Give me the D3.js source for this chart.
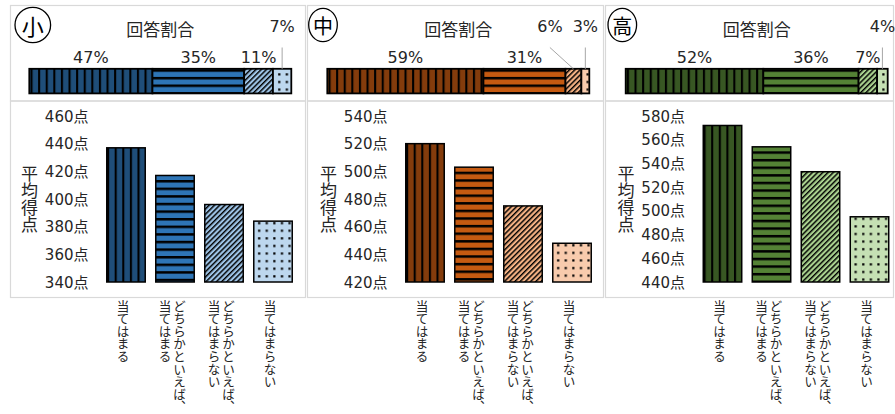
<!DOCTYPE html>
<html lang="ja">
<head>
<meta charset="utf-8">
<script src="https://cdn.jsdelivr.net/npm/d3@7"></script>
<style>
  html, body { margin: 0; padding: 0; background: #ffffff; }
  svg { display: block; font-family: "Noto Sans CJK JP", "Noto Sans", sans-serif; }
  .vt { writing-mode: vertical-rl; text-orientation: mixed; }
</style>
</head>
<body>
<svg id="chart" width="895" height="414"></svg>
<script>
// ---------- data ----------
const panelNames = ["小", "中", "高"];
const categories = ["当てはまる", "どちらかといえば、当てはまる", "どちらかといえば、当てはまらない", "当てはまらない"];
const shareSho = [47, 35, 11, 7];
const shareChu = [59, 31, 6, 3];
const shareKo  = [52, 36, 7, 4];
const scoreSho = [437, 417, 396, 384];
const scoreChu = [520, 503, 475, 448];
const scoreKo  = [572, 554, 533, 495];
const ticksSho = [340, 360, 380, 400, 420, 440, 460];
const ticksChu = [420, 440, 460, 480, 500, 520, 540];
const ticksKo  = [440, 460, 480, 500, 520, 540, 560, 580];
const shareTitle = "回答割合";
const yTitle = "平均得点";
const colorsSho = ["#1f4e79", "#2e75b6", "#9dc3e6", "#bdd7ee"];
const colorsChu = ["#843c0c", "#c55a11", "#f4b183", "#f8cbad"];
const colorsKo  = ["#385723", "#548235", "#a9d18e", "#c5e0b4"];
// which share labels sit above the bar with a leader line
const outsideSho = [false, false, false, true];
const outsideChu = [false, false, true, true];
const outsideKo  = [false, false, false, true];

const panels = [
  { name: panelNames[0], share: shareSho, score: scoreSho, ticks: ticksSho, colors: colorsSho, outside: outsideSho,
    box: [10.5, 305.5], stackX: 29.3, plotX: 101.5, circle: [32.8, 25, 17.8, 17.7], outDx: [0, 0, 0, 0] },
  { name: panelNames[1], share: shareChu, score: scoreChu, ticks: ticksChu, colors: colorsChu, outside: outsideChu,
    box: [307.5, 603.5], stackX: 327.3, plotX: 400.5, circle: [323, 25, 14.3, 16.7], outDx: [0, 0, -23.5, 0] },
  { name: panelNames[2], share: shareKo, score: scoreKo, ticks: ticksKo, colors: colorsKo, outside: outsideKo,
    box: [605.5, 893.5], stackX: 625.7, plotX: 698, circle: [622.3, 25, 14.3, 16.7], outDx: [0, 0, 0, 0] }
];

const svg = d3.select("#chart");
const defs = svg.append("defs");
const textColor = "#262626";
const border = "#d9d9d9";
const numFont = '"DejaVu Sans", "Noto Sans CJK JP", sans-serif';

// ---------- patterns (one per element so the stripes line up with its edges) ----------
let patCount = 0;
function pattern(kind, color, ox, oy) {
  const id = "pat" + (patCount++);
  let p;
  if (kind === 0) { // vertical stripes
    p = defs.append("pattern").attr("id", id).attr("patternUnits", "userSpaceOnUse")
      .attr("x", ox).attr("y", 0).attr("width", 7.6).attr("height", 10);
    p.append("rect").attr("width", 7.6).attr("height", 10).attr("fill", color);
    p.append("rect").attr("x", 0).attr("width", 2.1).attr("height", 10).attr("fill", "#000");
  } else if (kind === 1) { // horizontal stripes
    p = defs.append("pattern").attr("id", id).attr("patternUnits", "userSpaceOnUse")
      .attr("x", 0).attr("y", oy).attr("width", 10).attr("height", 7.6);
    p.append("rect").attr("width", 10).attr("height", 7.6).attr("fill", color);
    p.append("rect").attr("y", 0).attr("width", 10).attr("height", 2.5).attr("fill", "#000");
  } else if (kind === 2) { // upward diagonal
    p = defs.append("pattern").attr("id", id).attr("patternUnits", "userSpaceOnUse")
      .attr("width", 3.7).attr("height", 3.7).attr("patternTransform", "rotate(45)");
    p.append("rect").attr("width", 3.7).attr("height", 3.7).attr("fill", color);
    p.append("rect").attr("x", 0).attr("width", 1.45).attr("height", 3.7).attr("fill", "#000");
  } else { // dots
    p = defs.append("pattern").attr("id", id).attr("patternUnits", "userSpaceOnUse")
      .attr("x", ox).attr("y", oy).attr("width", 7.6).attr("height", 7.6);
    p.append("rect").attr("width", 7.6).attr("height", 7.6).attr("fill", color);
    p.append("rect").attr("x", 4).attr("y", 4).attr("width", 2.2).attr("height", 2.2).attr("fill", "#000");
  }
  return `url(#${id})`;
}

panels.forEach((P, pi) => {
  const g = svg.append("g");

  // panel frames
  g.append("rect").attr("x", P.box[0]).attr("y", 5.5).attr("width", P.box[1] - P.box[0]).attr("height", 95.5)
    .attr("fill", "none").attr("stroke", border).attr("stroke-width", 1.2);
  g.append("rect").attr("x", P.box[0]).attr("y", 101).attr("width", P.box[1] - P.box[0]).attr("height", 196.5)
    .attr("fill", "none").attr("stroke", border).attr("stroke-width", 1.2);

  // circled level mark
  const [cx, cy, rx, ry] = P.circle;
  g.append("ellipse").attr("cx", cx).attr("cy", cy).attr("rx", rx).attr("ry", ry)
    .attr("fill", "#fff").attr("stroke", "#000").attr("stroke-width", 1.3);
  g.append("text").attr("x", cx).attr("y", cy).attr("text-anchor", "middle").attr("dominant-baseline", "central")
    .attr("font-size", pi === 0 ? 22 : 20).attr("fill", "#000").text(P.name);

  // ---------- stacked share bar ----------
  const total = d3.sum(P.share);
  const sx = d3.scaleLinear().domain([0, total]).range([P.stackX, P.stackX + 262]);
  const cum = d3.cumsum(P.share);
  const segs = P.share.map((v, i) => ({ v, i, x0: cum[i] - v, x1: cum[i] }));
  const barTop = 68.8, barH = 24.6;

  g.append("text").attr("x", sx(total / 2)).attr("y", 36).attr("text-anchor", "middle")
    .attr("font-size", 17).attr("fill", textColor).text(shareTitle);

  g.selectAll("rect.seg").data(segs).join("rect").attr("class", "seg")
    .attr("x", d => sx(d.x0)).attr("y", barTop)
    .attr("width", d => sx(d.x1) - sx(d.x0)).attr("height", barH)
    .attr("fill", d => pattern(d.i, P.colors[d.i], sx(d.x0) + 1.2, barTop + 0.5))
    .attr("stroke", "#000").attr("stroke-width", 1.8);

  segs.forEach(d => {
    const mid = sx((d.x0 + d.x1) / 2);
    if (P.outside[d.i]) {
      const lx = mid + P.outDx[d.i];
      g.append("line").attr("x1", lx).attr("y1", 47.5).attr("x2", mid).attr("y2", barTop)
        .attr("stroke", "#a6a6a6").attr("stroke-width", 1);
      g.append("text").attr("x", lx).attr("y", 32).attr("text-anchor", "middle").attr("font-family", numFont)
        .attr("font-size", 16).attr("fill", textColor).text(d.v + "%");
    } else {
      g.append("text").attr("x", mid).attr("y", 63).attr("text-anchor", "middle").attr("font-family", numFont)
        .attr("font-size", 16).attr("fill", textColor).text(d.v + "%");
    }
  });

  // ---------- score bars ----------
  const x = d3.scaleBand().domain(categories).range([P.plotX, P.plotX + 196])
    .paddingInner(0.215).paddingOuter(0.1075);
  const y = d3.scaleLinear().domain(d3.extent(P.ticks)).range([282, 116]);

  const axis = d3.axisLeft(y).tickValues(P.ticks).tickSize(0).tickPadding(0).tickFormat(d => d + "点");
  const ag = g.append("g").attr("transform", `translate(${P.plotX - 13},0)`).call(axis);
  ag.select(".domain").remove();
  ag.selectAll("text").attr("font-size", 15).attr("fill", textColor)
    .attr("font-family", numFont).attr("dy", null).attr("dominant-baseline", "central");

  g.append("text").attr("class", "vt").attr("x", P.plotX - 72).attr("y", 199)
    .attr("text-anchor", "middle").attr("font-size", 17).attr("fill", textColor).text(yTitle);

  g.selectAll("rect.bar").data(P.score.map((v, i) => ({ v, i, c: categories[i] }))).join("rect")
    .attr("class", "bar")
    .attr("x", d => x(d.c)).attr("y", d => y(d.v))
    .attr("width", x.bandwidth()).attr("height", d => y.range()[0] - y(d.v))
    .attr("fill", d => pattern(d.i, P.colors[d.i], x(d.c) + 0.3, y(d.v) + 4.5))
    .attr("stroke", "#000").attr("stroke-width", 1.5);

  // category labels (vertical, wrapped after "、")
  categories.forEach(c => {
    const parts = c.includes("、") ? [c.slice(0, c.indexOf("、") + 1), c.slice(c.indexOf("、") + 1)] : [c];
    const mid = x(c) + x.bandwidth() / 2;
    const cols = parts.length === 1 ? [mid - 3] : [mid + 4.5, mid - 10];
    parts.forEach((t, k) => {
      g.append("text").attr("class", "vt").attr("x", cols[k]).attr("y", 299.5)
        .attr("font-size", 12.6).attr("fill", textColor).text(t);
    });
  });
});
</script>
</body>
</html>
